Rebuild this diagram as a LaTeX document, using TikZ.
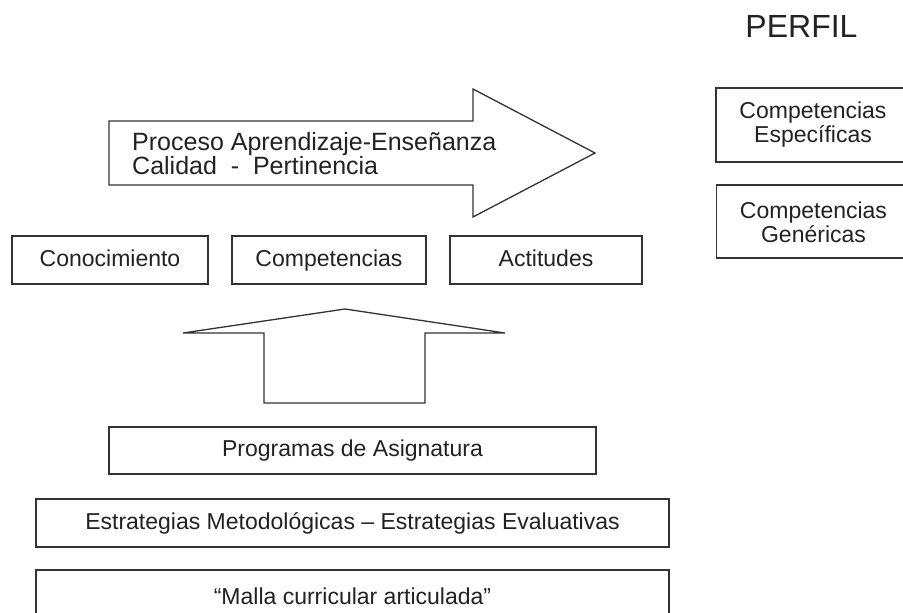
\documentclass[tikz,border=0pt]{standalone}
\usepackage{fontspec}
\setmainfont{Liberation Sans}
\definecolor{ink}{HTML}{333333}
\definecolor{txt}{HTML}{222222}
\begin{document}
\begin{tikzpicture}[x=1pt,y=-1pt,
  box/.style={draw=ink, line width=1.3pt, text=txt, rectangle, inner sep=0pt,
    font=\fontsize{23}{24}\selectfont, align=center, text height=16.5pt, text depth=4.5pt},
  box2/.style={draw=ink, line width=1.3pt, rectangle, inner sep=0pt},
  plaintext/.style={text=txt, font=\fontsize{23}{24}\selectfont, inner sep=0pt, align=center, anchor=base},
  shapeline/.style={draw=ink, line width=1.3pt, line join=miter},
  bigtext/.style={text=txt, font=\fontsize{25}{24}\selectfont, inner sep=0pt, anchor=base west}]
\useasboundingbox[fill=white] (0,0) rectangle (903,613);

% big right arrow
\draw[shapeline] (109,121) -- (473,121) -- (473,89) -- (595,153) -- (473,217) -- (473,185) -- (109,185) -- cycle;
\node[bigtext] (t1) at (132,150) {Proceso Aprendizaje-Enseñanza};
\node[bigtext] (t2) at (132,174) {Calidad\ \ -\ \ Pertinencia};

% three boxes
\node[box, minimum width=196pt, minimum height=48pt] (con) at (110,260) {Conocimiento};
\node[box, minimum width=194pt, minimum height=48pt] (com) at (329,260) {Competencias};
\node[box, minimum width=192pt, minimum height=48pt] (act) at (546,260) {Actitudes};

% up arrow
\draw[shapeline] (264,403) -- (264,333) -- (183,333) -- (345,309) -- (505,333) -- (425,333) -- (425,403) -- cycle;

% bottom boxes
\node[box, minimum width=487pt, minimum height=47pt] (prog) at (352.5,450.5) {Programas de Asignatura};
\node[box, minimum width=633pt, minimum height=48pt] (estr) at (352.5,523) {Estrategias Metodológicas – Estrategias Evaluativas};
\node[box2, minimum width=633pt, minimum height=60pt] (malla) at (352.5,600) {};
\node[plaintext] (mallat) at (352.5,604) {“Malla curricular articulada”};

% PERFIL
\node[text=txt, font=\fontsize{32}{32}\selectfont, inner sep=0pt, anchor=base] (perfil) at (801.5,37) {PERFIL};
\node[box2, minimum width=210pt, minimum height=74pt] (esp) at (821,125) {};
\node[box2, minimum width=210pt, minimum height=73pt] (gen) at (821.5,221.5) {};
\node[plaintext] (espt) at (813,142) {Competencias\\Específicas};
\node[plaintext] (gent) at (813.5,242) {Competencias\\Genéricas};
\end{tikzpicture}
\end{document}
